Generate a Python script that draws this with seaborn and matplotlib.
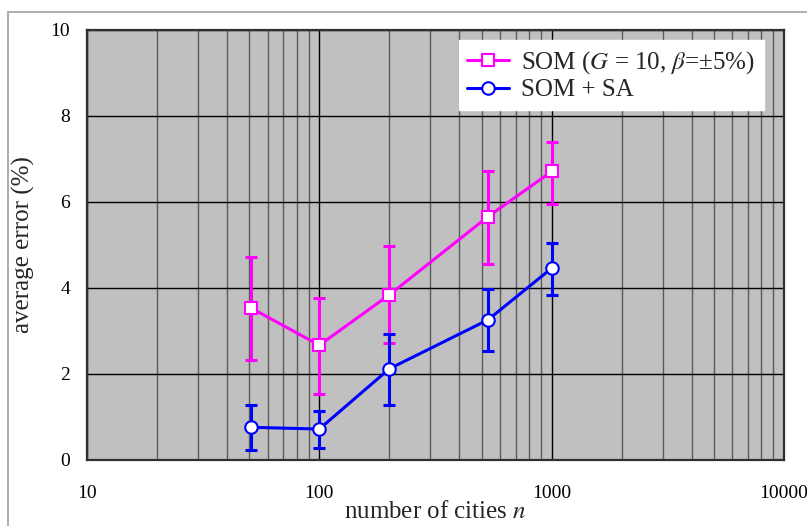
import numpy as np
import pandas as pd
import matplotlib
matplotlib.use("Agg")
import matplotlib.pyplot as plt
from matplotlib.ticker import LogLocator, FixedLocator, FuncFormatter, NullFormatter
from matplotlib.patches import Rectangle
import seaborn as sns

# ---- data ----
cities = [51, 100, 200, 532, 1000]
som_mean = [3.53, 2.67, 3.84, 5.66, 6.71]
som_low = [2.32, 1.54, 2.71, 4.56, 5.95]
som_high = [4.71, 3.76, 4.98, 6.71, 7.40]
sa_mean = [0.76, 0.72, 2.12, 3.26, 4.46]
sa_low = [0.23, 0.28, 1.27, 2.54, 3.84]
sa_high = [1.27, 1.15, 2.92, 3.97, 5.04]
series_names = ["SOM ($G$ = 10, $\\beta$=±5%)", "SOM + SA"]
y_ticks = [0, 2, 4, 6, 8, 10]
x_ticks = [10, 100, 1000, 10000]

sns.set_style("white")
plt.rcParams["font.family"] = ["Liberation Serif", "DejaVu Serif"]
plt.rcParams["mathtext.fontset"] = "stix"

df = pd.DataFrame({
    "n": cities * 2,
    "err": som_mean + sa_mean,
    "series": [series_names[0]] * len(cities) + [series_names[1]] * len(cities),
})

fig = plt.figure(figsize=(8.07, 5.26), dpi=100)
fig.add_artist(Rectangle((8 / 807, -0.1), 1.2, (526 - 12) / 526 + 0.1,
                         transform=fig.transFigure, fill=False,
                         edgecolor="#a0a0a0", linewidth=1.2))
ax = fig.add_axes([87 / 807, 66 / 526, 697 / 807, 430 / 526])
ax.set_facecolor("#c0c0c0")

colors = {series_names[0]: "#ff00ff", series_names[1]: "#0000ff"}
markers = {series_names[0]: "s", series_names[1]: "o"}

# error bars
for mean, lo, hi, c, z in [(som_mean, som_low, som_high, "#ff00ff", 3),
                           (sa_mean, sa_low, sa_high, "#0000ff", 5)]:
    mean = np.array(mean)
    yerr = np.vstack([mean - np.array(lo), np.array(hi) - mean])
    ax.errorbar(cities, mean, yerr=yerr, fmt="none", ecolor=c,
                elinewidth=2.2, capsize=4.5, capthick=2.2, zorder=z)

sns.lineplot(data=df, x="n", y="err", hue="series", style="series",
             palette=colors, markers=markers, dashes=False, ax=ax,
             linewidth=2.2, markersize=9, markerfacecolor="white",
             markeredgewidth=1.5, zorder=6)
for line in ax.lines:
    if line.get_marker() in ("s", "o"):
        line.set_markeredgecolor(line.get_color())
        line.set_markerfacecolor("white")

ax.set_xscale("log")
ax.set_xlim(10, 10000)
ax.set_ylim(0, 10)
ax.xaxis.set_major_locator(FixedLocator(x_ticks))
ax.xaxis.set_major_formatter(FuncFormatter(lambda v, p: f"{int(round(v))}"))
ax.xaxis.set_minor_locator(LogLocator(base=10, subs=np.arange(2, 10)))
ax.xaxis.set_minor_formatter(NullFormatter())
ax.set_yticks(y_ticks)

ax.grid(which="major", axis="both", color="#000000", linewidth=1.0, zorder=0)
ax.grid(which="minor", axis="x", color="#5a5a5a", linewidth=1.0, zorder=0)
ax.set_axisbelow(True)

ax.tick_params(axis="both", which="both", length=0, labelsize=14, colors="black")
ax.tick_params(axis="x", pad=18)
ax.tick_params(axis="y", pad=12)

for s in ax.spines.values():
    s.set_color("#303030")
    s.set_linewidth(1.6)

ax.set_xlabel("number of cities $\\it{n}$", fontsize=18)
ax.set_ylabel("average error (%)", fontsize=18)
ax.xaxis.set_label_coords(0.5, -0.095)
ax.yaxis.set_label_coords(-0.075, 0.5)

handles, labels = ax.get_legend_handles_labels()
for h in handles:
    h.set_markeredgecolor(h.get_color())
    h.set_markerfacecolor("white")
leg = ax.legend(handles, labels, loc="upper right", bbox_to_anchor=(0.971, 0.976),
                fontsize=18, frameon=True, fancybox=False, framealpha=1,
                edgecolor="white", facecolor="white", borderpad=0.35,
                handlelength=1.65, handletextpad=0.5, labelspacing=0.12,
                borderaxespad=0)
leg.set_zorder(10)

fig.savefig("out.png", dpi=100)
